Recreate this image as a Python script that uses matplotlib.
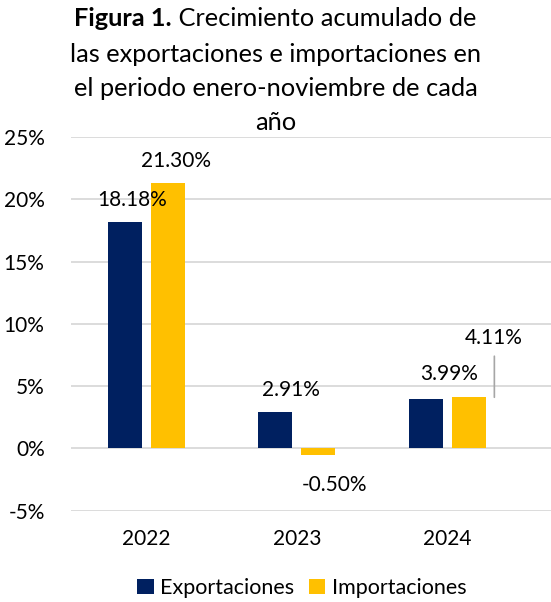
import numpy as np
import matplotlib
matplotlib.use("Agg")
import matplotlib.pyplot as plt

years = ["2022", "2023", "2024"]
exportaciones = [18.18, 2.91, 3.99]
importaciones = [21.30, -0.50, 4.11]
yticks = [-5, 0, 5, 10, 15, 20, 25]

# manual label offsets (points) relative to bar end, like the original
exp_off = [(5, 16), (11, 16), (17, 18)]
imp_off = [(6, 16), (12, -22), (18, 43)]

navy = "#002060"
gold = "#FFC000"
grid = "#D9D9D9"

plt.rcParams["font.family"] = ["Lato", "DejaVu Sans"]

fig = plt.figure(figsize=(5.51, 6.02), dpi=100)
ax = fig.add_axes([0.1289, 0.1517, 0.8711, 0.6203])

x = np.arange(len(years))
w = 0.226
d = 0.143
ax.bar(x - d, exportaciones, w, color=navy, label="Exportaciones", zorder=3)
ax.bar(x + d, importaciones, w, color=gold, label="Importaciones", zorder=3)

for i in range(len(years)):
    ax.annotate("%.2f%%" % exportaciones[i], (x[i] - d, exportaciones[i]),
                xytext=exp_off[i], textcoords="offset points",
                ha="center", va="center", fontsize=15, color="#000000")
    ax.annotate("%.2f%%" % importaciones[i], (x[i] + d, importaciones[i]),
                xytext=imp_off[i], textcoords="offset points",
                ha="center", va="center", fontsize=15, color="#000000")

# leader line for the 2024 import label
ax.annotate("", (x[2] + d + 0.17, importaciones[2]),
            xytext=(x[2] + d + 0.17, importaciones[2] + 3.3),
            arrowprops=dict(arrowstyle="-", color="#A6A6A6", lw=1.2,
                            shrinkA=0, shrinkB=0))

ax.set_ylim(-5, 25)
ax.set_xlim(-0.5, -0.5 + 480 / 150.5)
ax.set_yticks(yticks)
ax.set_yticklabels(["%d%%" % t for t in yticks])
ax.set_xticks(x)
ax.set_xticklabels(years)
ax.tick_params(axis="both", length=0, labelsize=15, colors="#000000")
ax.tick_params(axis="y", pad=19)
ax.tick_params(axis="x", pad=13)
ax.grid(axis="y", color=grid, lw=1.3, zorder=0)
for s in ax.spines.values():
    s.set_visible(False)

# title with bold prefix
fs = 18.3
r = fig.canvas.get_renderer()
t1 = fig.text(0, 1 - 19 / 602, "Figura 1.", fontsize=fs, fontweight="bold", va="center")
t2 = fig.text(0, 1 - 19 / 602, " Crecimiento acumulado de", fontsize=fs, va="center")
w1 = t1.get_window_extent(r).width
w2 = t2.get_window_extent(r).width
x0 = (551 - (w1 + w2)) / 2
t1.set_x(x0 / 551)
t2.set_x((x0 + w1) / 551)
fig.text(0.5, 1 - 54 / 602, "las exportaciones e importaciones en", fontsize=fs, ha="center", va="center")
fig.text(0.5, 1 - 89 / 602, "el periodo enero-noviembre de cada", fontsize=fs, ha="center", va="center")
fig.text(0.5, 1 - 123 / 602, "año", fontsize=fs, ha="center", va="center")

fig.legend(loc="center", bbox_to_anchor=(302 / 551, 1 - 588 / 602), ncol=2,
           frameon=False, fontsize=15.5, handlelength=0.75, handleheight=0.75,
           handletextpad=0.3, columnspacing=0.7)

fig.savefig("out.png", dpi=100)
